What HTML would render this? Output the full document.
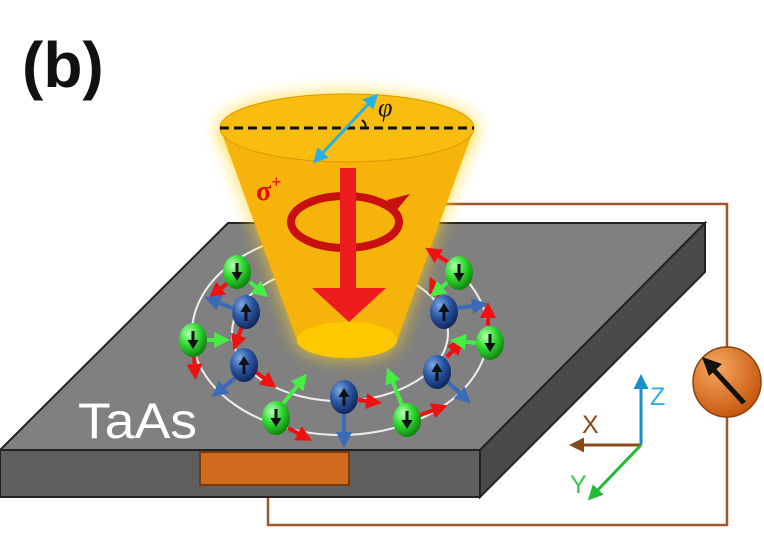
<!DOCTYPE html>
<html><head><meta charset="utf-8"><style>
html,body{margin:0;padding:0;background:#fff;width:764px;height:558px;overflow:hidden}
svg{display:block}
</style></head><body>
<svg width="764" height="558" viewBox="0 0 764 558">
<defs>
<radialGradient id="gG" cx="35%" cy="30%" r="70%"><stop offset="0" stop-color="#b8ffb8"/><stop offset="0.5" stop-color="#33dd33"/><stop offset="1" stop-color="#118811"/></radialGradient>
<radialGradient id="gB" cx="35%" cy="30%" r="70%"><stop offset="0" stop-color="#7fa8e0"/><stop offset="0.5" stop-color="#2d5aa8"/><stop offset="1" stop-color="#112a60"/></radialGradient>
<radialGradient id="gM" cx="35%" cy="30%" r="70%"><stop offset="0" stop-color="#f7a860"/><stop offset="1" stop-color="#c85a10"/></radialGradient>
<filter id="glow" x="-30%" y="-30%" width="160%" height="160%"><feGaussianBlur stdDeviation="9"/></filter>
<marker id="aR" markerWidth="4" markerHeight="4" refX="2" refY="2" orient="auto"><path d="M0,0L4,2L0,4z" fill="#ee1111"/></marker>
<marker id="aGr" markerWidth="4" markerHeight="4" refX="2" refY="2" orient="auto"><path d="M0,0L4,2L0,4z" fill="#44ee44"/></marker>
<marker id="aBl" markerWidth="4" markerHeight="4" refX="2" refY="2" orient="auto"><path d="M0,0L4,2L0,4z" fill="#3a6ab8"/></marker>
<marker id="aC" markerWidth="5" markerHeight="5" refX="3" refY="2.5" orient="auto"><path d="M0,0L5,2.5L0,5z" fill="#2ab0e8"/></marker>
<marker id="aCs" markerWidth="5" markerHeight="5" refX="3" refY="2.5" orient="auto-start-reverse"><path d="M0,0L5,2.5L0,5z" fill="#2ab0e8"/></marker>
<marker id="aZ" markerWidth="5" markerHeight="5" refX="3" refY="2.5" orient="auto"><path d="M0,0L5,2.5L0,5z" fill="#1a90c8"/></marker>
<marker id="aX" markerWidth="5" markerHeight="5" refX="3" refY="2.5" orient="auto"><path d="M0,0L5,2.5L0,5z" fill="#8a4a1a"/></marker>
<marker id="aY" markerWidth="5" markerHeight="5" refX="3" refY="2.5" orient="auto"><path d="M0,0L5,2.5L0,5z" fill="#22bb33"/></marker>
</defs>
<text x="22" y="87" font-family="Liberation Sans, sans-serif" font-weight="bold" font-size="64" fill="#111">(b)</text>

<polyline points="440,204 727,204 727,525 268,525 268,484" fill="none" stroke="#a0562a" stroke-width="2.5"/>

<g>
<polygon points="228,223 705,223 480,450 0,450" fill="#808080" stroke="#222" stroke-width="2"/>
<polygon points="0,450 480,450 480,497 0,497" fill="#5e5e5e" stroke="#222" stroke-width="2"/>
<polygon points="480,450 705,223 705,272 480,497" fill="#4a4a4a" stroke="#222" stroke-width="2"/>
</g>
<rect x="200" y="452" width="149" height="33" fill="#d06a1c" stroke="#7a3a0a" stroke-width="2"/>
<text x="78" y="438" font-family="Liberation Sans, sans-serif" font-size="50" textLength="119" lengthAdjust="spacingAndGlyphs" fill="#fff">TaAs</text>

<ellipse cx="340" cy="333" rx="148" ry="102" fill="none" stroke="#eee" stroke-width="2"/>
<ellipse cx="340" cy="333" rx="108" ry="68" fill="none" stroke="#eee" stroke-width="2"/>

<g>
<path d="M220,128 L297,340 A50,18 0 0 0 397,340 L474,128 Z" fill="#ffd21a" filter="url(#glow)" opacity="0.85"/>
<ellipse cx="347" cy="128" rx="127" ry="34" fill="#ffd21a" filter="url(#glow)" opacity="0.85"/>
<path d="M220,128 L297,340 A50,18 0 0 0 397,340 L474,128 A127,34 0 0 1 220,128 Z" fill="#f6b30c"/>
<ellipse cx="347" cy="128" rx="127" ry="34" fill="#f9bd10" stroke="#d99a00" stroke-width="1"/>
<ellipse cx="347" cy="340" rx="50" ry="18" fill="#ffc800"/>
</g>
<line x1="220" y1="128" x2="474" y2="128" stroke="#111" stroke-width="3" stroke-dasharray="9,5"/>
<line x1="317" y1="159" x2="374" y2="98" stroke="#2ab0e8" stroke-width="3" marker-end="url(#aC)" marker-start="url(#aCs)"/>
<path d="M362,120 Q367,124 365,128" fill="none" stroke="#111" stroke-width="2"/>
<text x="378" y="116" font-family="Liberation Serif, serif" font-style="italic" font-size="26" fill="#111">φ</text>
<text x="256" y="200" font-family="Liberation Serif, serif" font-weight="bold" font-size="28" fill="#e01010">σ<tspan dy="-12" font-size="18">+</tspan></text>
<ellipse cx="345" cy="222" rx="54" ry="26" fill="none" stroke="#c81010" stroke-width="8"/>
<path d="M387,200 L410,194 L395,212 Z" fill="#c81010"/>
<g>
<rect x="340" y="168" width="16" height="122" fill="#ee1c1c"/>
<path d="M312,288 L386,288 L349,322 Z" fill="#ee1c1c"/>
</g>

<g stroke-width="4">
<line x1="229" y1="282" x2="215" y2="293" stroke="#ee1111" marker-end="url(#aR)"/>
<line x1="250" y1="282" x2="262" y2="292" stroke="#44ee44" marker-end="url(#aGr)"/>
<line x1="232" y1="308" x2="212" y2="300" stroke="#3a6ab8" marker-end="url(#aBl)"/>
<line x1="242" y1="326" x2="236" y2="343" stroke="#ee1111" marker-end="url(#aR)"/>
<line x1="206" y1="340" x2="222" y2="340" stroke="#44ee44" marker-end="url(#aGr)"/>
<line x1="194" y1="356" x2="195" y2="372" stroke="#ee1111" marker-end="url(#aR)"/>
<line x1="235" y1="378" x2="218" y2="392" stroke="#3a6ab8" marker-end="url(#aBl)"/>
<line x1="256" y1="372" x2="270" y2="383" stroke="#ee1111" marker-end="url(#aR)"/>
<line x1="282" y1="405" x2="302" y2="380" stroke="#44ee44" marker-end="url(#aGr)"/>
<line x1="288" y1="428" x2="305" y2="437" stroke="#ee1111" marker-end="url(#aR)"/>
<line x1="344" y1="412" x2="344" y2="440" stroke="#3a6ab8" marker-end="url(#aBl)"/>
<line x1="358" y1="400" x2="374" y2="402" stroke="#ee1111" marker-end="url(#aR)"/>
<line x1="402" y1="405" x2="390" y2="375" stroke="#44ee44" marker-end="url(#aGr)"/>
<line x1="420" y1="415" x2="440" y2="408" stroke="#ee1111" marker-end="url(#aR)"/>
<line x1="448" y1="382" x2="465" y2="398" stroke="#3a6ab8" marker-end="url(#aBl)"/>
<line x1="447" y1="357" x2="458" y2="345" stroke="#ee1111" marker-end="url(#aR)"/>
<line x1="476" y1="343" x2="458" y2="341" stroke="#44ee44" marker-end="url(#aGr)"/>
<line x1="488" y1="326" x2="488" y2="310" stroke="#ee1111" marker-end="url(#aR)"/>
<line x1="458" y1="308" x2="480" y2="305" stroke="#3a6ab8" marker-end="url(#aBl)"/>
<line x1="440" y1="300" x2="433" y2="284" stroke="#ee1111" marker-end="url(#aR)"/>
<line x1="448" y1="262" x2="432" y2="252" stroke="#ee1111" marker-end="url(#aR)"/>
<line x1="448" y1="282" x2="436" y2="292" stroke="#44ee44" marker-end="url(#aGr)"/>
</g>

<g>
<g transform="translate(237,272)"><ellipse rx="14" ry="17" fill="url(#gG)"/><path d="M-1.5,-9h3v9h4l-5.5,9l-5.5,-9h4z" fill="#111"/></g>
<g transform="translate(459,273)"><ellipse rx="14" ry="17" fill="url(#gG)"/><path d="M-1.5,-9h3v9h4l-5.5,9l-5.5,-9h4z" fill="#111"/></g>
<g transform="translate(193,340)"><ellipse rx="14" ry="17" fill="url(#gG)"/><path d="M-1.5,-9h3v9h4l-5.5,9l-5.5,-9h4z" fill="#111"/></g>
<g transform="translate(490,343)"><ellipse rx="14" ry="17" fill="url(#gG)"/><path d="M-1.5,-9h3v9h4l-5.5,9l-5.5,-9h4z" fill="#111"/></g>
<g transform="translate(276,418)"><ellipse rx="14" ry="17" fill="url(#gG)"/><path d="M-1.5,-9h3v9h4l-5.5,9l-5.5,-9h4z" fill="#111"/></g>
<g transform="translate(407,420)"><ellipse rx="14" ry="17" fill="url(#gG)"/><path d="M-1.5,-9h3v9h4l-5.5,9l-5.5,-9h4z" fill="#111"/></g>
</g>
<g>
<g transform="translate(246,312)"><ellipse rx="14" ry="17" fill="url(#gB)"/><path d="M-1.5,9h3v-9h4l-5.5,-9l-5.5,9h4z" fill="#111"/></g>
<g transform="translate(444,312)"><ellipse rx="14" ry="17" fill="url(#gB)"/><path d="M-1.5,9h3v-9h4l-5.5,-9l-5.5,9h4z" fill="#111"/></g>
<g transform="translate(244,365)"><ellipse rx="14" ry="17" fill="url(#gB)"/><path d="M-1.5,9h3v-9h4l-5.5,-9l-5.5,9h4z" fill="#111"/></g>
<g transform="translate(437,372)"><ellipse rx="14" ry="17" fill="url(#gB)"/><path d="M-1.5,9h3v-9h4l-5.5,-9l-5.5,9h4z" fill="#111"/></g>
<g transform="translate(344,397)"><ellipse rx="14" ry="17" fill="url(#gB)"/><path d="M-1.5,9h3v-9h4l-5.5,-9l-5.5,9h4z" fill="#111"/></g>
</g>

<g>
<line x1="641" y1="445" x2="641" y2="380" stroke="#1a90c8" stroke-width="3" marker-end="url(#aZ)"/>
<line x1="641" y1="445" x2="575" y2="445" stroke="#8a4a1a" stroke-width="3" marker-end="url(#aX)"/>
<line x1="641" y1="445" x2="592" y2="496" stroke="#22bb33" stroke-width="3" marker-end="url(#aY)"/>
<text x="650" y="405" font-family="Liberation Sans, sans-serif" font-size="25" fill="#2ab0e8">Z</text>
<text x="582" y="433" font-family="Liberation Sans, sans-serif" font-size="25" fill="#8a4a1a">X</text>
<text x="570" y="493" font-family="Liberation Sans, sans-serif" font-size="25" fill="#33cc44">Y</text>
</g>

<g>
<ellipse cx="727" cy="382" rx="34" ry="35" fill="url(#gM)" stroke="#8a4010" stroke-width="1.5"/>
<line x1="744" y1="403" x2="712" y2="368" stroke="#111" stroke-width="5"/>
<path d="M702,357 L722,364 L709,376 Z" fill="#111"/>
</g>
</svg>
</body></html>
